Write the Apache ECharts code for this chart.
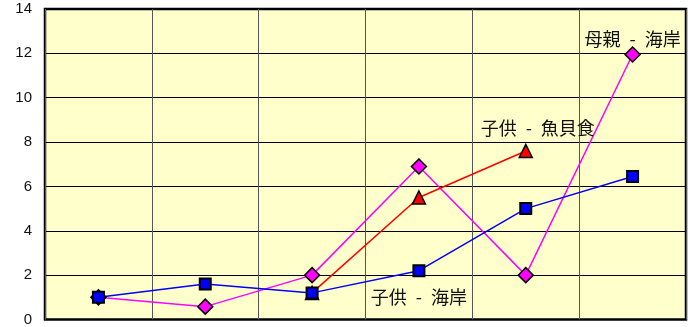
<!DOCTYPE html>
<html>
<head>
<meta charset="utf-8">
<script src="https://cdn.jsdelivr.net/npm/echarts@6/dist/echarts.min.js"></script>
<style>
html,body{margin:0;padding:0;background:#fff;}
#main{width:688px;height:327px;}
</style>
</head>
<body>
<div id="main"></div>
<script>
var categories = ['1', '2', '3', '4', '5', '6'];
var childBeach = [1.0, 1.6, 1.2, 2.2, 5.0, 6.45];
var motherBeach = [1.0, 0.58, 2.0, 6.9, 2.0, 11.95];
var childSeafood = [null, null, 1.2, 5.5, 7.6, null];
var yTicks = {min: 0, max: 14, interval: 2};

var labelFont = {fontFamily: '"Noto Sans CJK JP", sans-serif', fontSize: 18, color: '#111'};

// put a name label on one point of a series
function withLabel(arr, idx, text, pos, offset) {
	return arr.map(function (v, i) {
		if (i !== idx) return v;
		return {
			value: v,
			label: Object.assign({show: true, position: pos, offset: offset, formatter: text}, labelFont)
		};
	});
}

var chart = echarts.init(document.getElementById('main'));
var option = {
	animation: false,
	grid: {
		left: 45, right: 2, top: 9, bottom: 3,
		show: true, backgroundColor: '#FFFFCC',
		borderColor: '#000', borderWidth: 2.5
	},
	xAxis: {
		type: 'category',
		data: categories,
		boundaryGap: true,
		axisLine: {show: false},
		axisTick: {show: false},
		axisLabel: {show: false},
		splitLine: {show: true, lineStyle: {color: '#555', width: 1}}
	},
	yAxis: {
		type: 'value',
		min: yTicks.min, max: yTicks.max, interval: yTicks.interval,
		axisLine: {show: false},
		axisTick: {show: false},
		axisLabel: {color: '#111', fontSize: 15, fontFamily: 'Liberation Sans, Arial', margin: 13},
		splitLine: {lineStyle: {color: '#000', width: 1}}
	},
	series: [
		{
			name: '母親 - 海岸',
			type: 'line',
			data: withLabel(motherBeach, 5, '母親\u2002-\u2002海岸', 'top', [0, 7]),
			symbol: 'diamond', symbolSize: 15,
			lineStyle: {color: '#FF00FF', width: 1.5},
			itemStyle: {color: '#FF00FF', borderColor: '#000', borderWidth: 1.5}
		},
		{
			name: '子供 - 魚貝食',
			type: 'line',
			data: withLabel(childSeafood, 4, '子供\u2002-\u2002魚貝食', 'top', [12, -2]),
			symbol: 'triangle', symbolSize: 13,
			lineStyle: {color: '#FF0000', width: 1.5},
			itemStyle: {color: '#FF0000', borderColor: '#000', borderWidth: 1.5}
		},
		{
			name: '子供 - 海岸',
			type: 'line',
			data: withLabel(childBeach, 3, '子供\u2002-\u2002海岸', 'bottom', [0, 6]),
			symbol: 'rect', symbolSize: 11,
			lineStyle: {color: '#0000FF', width: 1.5},
			itemStyle: {color: '#0000FF', borderColor: '#000', borderWidth: 2}
		}
	]
};
chart.setOption(option);
</script>
</body>
</html>
